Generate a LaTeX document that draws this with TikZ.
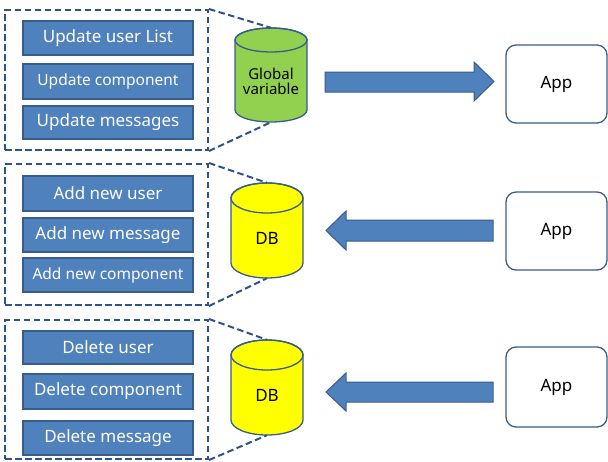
\documentclass[tikz,border=0pt]{standalone}
\usepackage{fontspec}
\setmainfont{Noto Sans}
\definecolor{boxfill}{HTML}{4F81BD}
\definecolor{boxline}{HTML}{385D8A}
\definecolor{frameline}{HTML}{2F528F}
\definecolor{dbgreen}{HTML}{92D050}
\definecolor{dbyellow}{HTML}{FFFF00}
\tikzset{
  item/.style={draw=boxline, line width=1.2pt, fill=boxfill, text=white,
    minimum width=170pt, inner sep=0pt, font=\fontsize{17}{20}\selectfont},
  smallitem/.style={item, font=\fontsize{15.5}{18}\selectfont},
  frame/.style={draw=frameline, line width=2pt, dash pattern=on 6.5pt off 3.5pt},
  zoomline/.style={draw=frameline, line width=2pt, dash pattern=on 6.5pt off 3.5pt},
  appbox/.style={draw=boxline, line width=1.3pt, fill=white, rounded corners=10pt,
    minimum width=101pt, inner sep=0pt, font=\fontsize{17}{20}\selectfont},
  cylshape/.style={draw=boxline, line width=1.3pt},
  blockarrow/.style={fill=boxfill, draw=boxline, line width=1pt},
}
% cylinder: name, centre x, top y, bottom y, y radius, colour, text
\newcommand\drawcyl[7]{%
  \node[minimum width=72pt, minimum height=#4-#3, inner sep=0pt] (#1) at (#2,{(#3+#4)/2}) {};
  \path[cylshape, fill=#6]
    (#2-36,#3+#5) -- (#2-36,#4-#5)
    arc[start angle=180, end angle=360, x radius=36pt, y radius=#5pt]
    -- (#2+36,#3+#5)
    arc[start angle=0, end angle=180, x radius=36pt, y radius=#5pt] -- cycle;
  \path[cylshape] (#2,#3+#5) ellipse [x radius=36pt, y radius=#5pt];
  \node[align=center, font=\fontsize{15}{17}\selectfont] (#1-label) at (#2,{(#3+#4)/2+#5/2}) {#7};
}
\begin{document}
\begin{tikzpicture}[x=1pt, y=-1pt]
\useasboundingbox (0,0) rectangle (608,461);

% ---- update group ----
\node[frame, minimum width=203pt, minimum height=140pt, inner sep=0pt] (frame1) at (106.5,80) {};
\node[item, minimum height=34pt] (u1) at (108,38) {Update user List};
\node[smallitem, minimum height=35pt] (u2) at (108,81.5) {Update component};
\node[item, minimum height=33pt] (u3) at (108,122.5) {Update messages};
\drawcyl{cyl1}{271}{28}{122}{12}{dbgreen}{Global\\[-2pt]variable}
\draw[zoomline] (frame1.north east) -- (cyl1.north);
\draw[zoomline] (frame1.south east) -- (cyl1.south);

% ---- add group ----
\node[frame, minimum width=203pt, minimum height=141pt, inner sep=0pt] (frame2) at (106.5,234.5) {};
\node[item, minimum height=35pt] (a1) at (108,193.5) {Add new user};
\node[item, minimum height=34pt] (a2) at (108,235) {Add new message};
\node[smallitem, minimum height=34pt] (a3) at (108,275) {Add new component};
\drawcyl{cyl2}{267}{183}{278}{15}{dbyellow}{\fontsize{17}{20}\selectfont DB}
\draw[zoomline] (frame2.north east) -- (cyl2.north);
\draw[zoomline] (frame2.south east) -- (cyl2.south);

% ---- delete group ----
\node[frame, minimum width=203pt, minimum height=139pt, inner sep=0pt] (frame3) at (106.5,389.5) {};
\node[item, minimum height=33pt] (d1) at (108,347.5) {Delete user};
\node[item, minimum height=35pt] (d2) at (108,391.5) {Delete component};
\node[item, minimum height=34pt] (d3) at (108,438) {Delete message};
\drawcyl{cyl3}{267}{340}{435}{15}{dbyellow}{\fontsize{17}{20}\selectfont DB}
\draw[zoomline] (frame3.north east) -- (cyl3.north);
\draw[zoomline] (frame3.south east) -- (cyl3.south);

% ---- applications ----
\node[appbox, minimum height=78pt] (app1) at (556.5,84) {App};
\node[appbox, minimum height=78pt] (app2) at (556.5,231) {App};
\node[appbox, minimum height=80pt] (app3) at (556.5,387) {App};

% ---- block arrows ----
\draw[blockarrow] (325,72) -- (474,72) -- (474,62) -- (494,81.5) -- (474,101)
  -- (474,92) -- (325,92) -- cycle;
\draw[blockarrow] (493,220) -- (346,220) -- (346,211) -- (326,230.5) -- (346,250)
  -- (346,241) -- (493,241) -- cycle;
\draw[blockarrow] (493,382) -- (346,382) -- (346,373) -- (326,392) -- (346,411)
  -- (346,402) -- (493,402) -- cycle;
\end{tikzpicture}
\end{document}
